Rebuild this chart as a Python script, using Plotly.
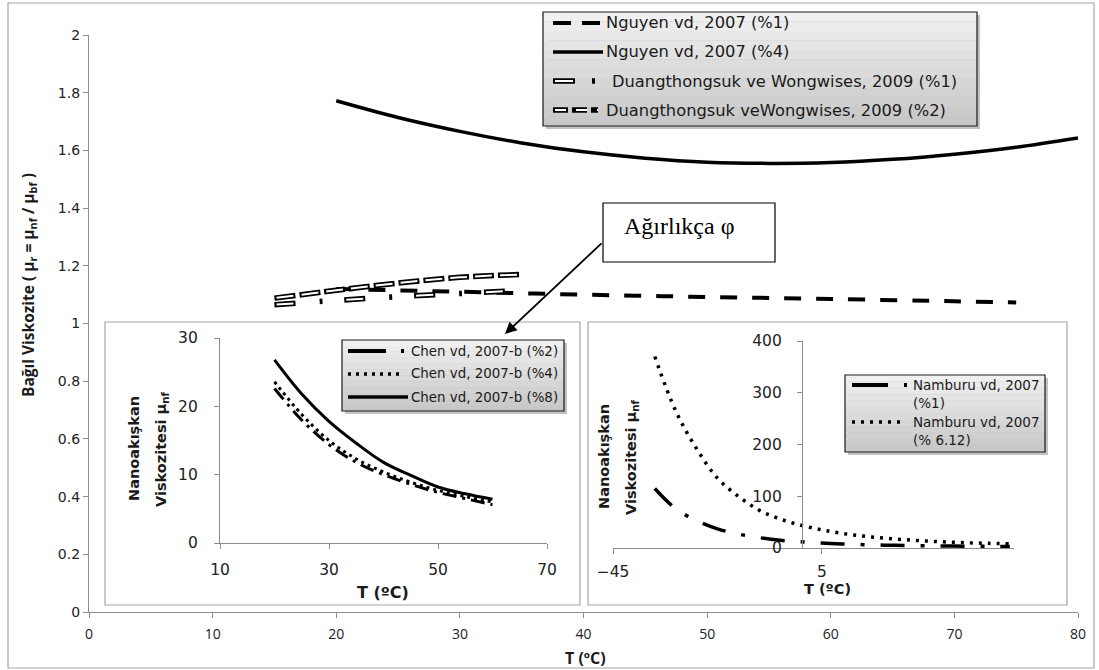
import plotly.graph_objects as go

# ---------------- data ----------------
main_x_ticks = [0, 10, 20, 30, 40, 50, 60, 70, 80]
main_y_ticks = [0, 0.2, 0.4, 0.6, 0.8, 1, 1.2, 1.4, 1.6, 1.8, 2]
main_y_ticktext = ["0", "0.2", "0.4", "0.6", "0.8", "1", "1.2", "1.4", "1.6", "1.8", "2"]

nguyen1_T = [20, 30, 40, 50, 60, 70, 75]
nguyen1_mu = [1.120, 1.110, 1.100, 1.092, 1.085, 1.077, 1.073]
nguyen4_T = [20, 25, 30, 35, 40, 45, 50, 55, 60, 65, 70, 75, 80]
nguyen4_mu = [1.772, 1.714, 1.666, 1.626, 1.595, 1.573, 1.559, 1.555, 1.558, 1.569, 1.587, 1.611, 1.643]
duang1_T = [15, 20, 25, 30, 34]
duang1_mu = [1.065, 1.080, 1.093, 1.104, 1.113]
duang2_T = [15, 20, 25, 30, 35]
duang2_mu = [1.088, 1.115, 1.140, 1.160, 1.170]

chen_T = [20, 25, 30, 35, 40, 45, 50, 55, 60]
chen2_mu = [22.6, 18.0, 14.4, 11.8, 10.0, 8.6, 7.4, 6.5, 5.6]
chen4_mu = [23.6, 18.8, 15.0, 12.3, 10.4, 8.9, 7.7, 6.8, 6.0]
chen8_mu = [26.8, 21.8, 17.8, 14.6, 11.8, 9.9, 8.2, 7.2, 6.4]
chen_x_ticks = [10, 30, 50, 70]
chen_y_ticks = [0, 10, 20, 30]

namburu_T = [-35, -30, -25, -20, -15, -10, -5, 0, 5, 10, 15, 20, 25, 30, 35, 40, 45, 50]
namburu1_mu = [115, 76, 53, 37, 27, 20, 15, 12, 9.5, 7.8, 6.5, 5.5, 4.8, 4.2, 3.8, 3.4, 3.1, 2.9]
namburu612_mu = [370, 265, 192, 135, 100, 73, 56, 44, 35, 28, 23, 19, 16, 13.5, 11.5, 10, 9, 8]
namburu_x_ticks = [-45, 5]
namburu_y_ticks = [0, 100, 200, 300, 400]

legend_main = ["Nguyen vd, 2007 (%1)", "Nguyen vd, 2007 (%4)",
               "Duangthongsuk ve Wongwises, 2009 (%1)", "Duangthongsuk veWongwises, 2009 (%2)"]
legend_chen = ["Chen vd, 2007-b (%2)", "Chen vd, 2007-b (%4)", "Chen vd, 2007-b (%8)"]
legend_namburu = ["Namburu vd, 2007<br>(%1)", "Namburu vd, 2007<br>(% 6.12)"]

# ---------------- geometry helpers (pixels -> paper) ----------------
W, H = 1099, 670
PL, PR, PT, PB = 89, 1078, 35, 612


def X(px):
    return (px - PL) / (PR - PL)


def Y(py):
    return (PB - py) / (PB - PT)


FONT = "Open Sans"
DV = "DejaVu Sans"
BLACK = "black"
AX = "#8c8c8c"
TXT = "#1a1a1a"

fig = go.Figure()

# ---------------- main traces ----------------
fig.add_trace(go.Scatter(x=nguyen4_T, y=nguyen4_mu, mode="lines", line=dict(color=BLACK, width=3.5, shape="spline"),
                         showlegend=False))
fig.add_trace(go.Scatter(x=nguyen1_T, y=nguyen1_mu, mode="lines", line=dict(color=BLACK, width=4, dash="17px,15px", shape="spline"),
                         showlegend=False))
# hollow (double) dashed lines: thick black + thin white overlay
fig.add_trace(go.Scatter(x=duang2_T, y=duang2_mu, mode="lines", line=dict(color=BLACK, width=5.5, dash="21px,4px", shape="spline"),
                         showlegend=False))
fig.add_trace(go.Scatter(x=duang2_T, y=duang2_mu, mode="lines", line=dict(color="white", width=2, dash="0px,2px,17px,6px", shape="spline"),
                         showlegend=False))
fig.add_trace(go.Scatter(x=duang1_T, y=duang1_mu, mode="lines", line=dict(color=BLACK, width=5.5, dash="21px,24px,3px,22px", shape="spline"),
                         showlegend=False))
fig.add_trace(go.Scatter(x=duang1_T, y=duang1_mu, mode="lines", line=dict(color="white", width=2, dash="0px,2px,17px,51px", shape="spline"),
                         showlegend=False))

# ---------------- Chen inset ----------------
fig.add_trace(go.Scatter(x=chen_T, y=chen8_mu, mode="lines", line=dict(color=BLACK, width=3, shape="spline"),
                         xaxis="x2", yaxis="y2", showlegend=False))
fig.add_trace(go.Scatter(x=chen_T, y=chen4_mu, mode="lines", line=dict(color=BLACK, width=3, dash="3px,4px", shape="spline"),
                         xaxis="x2", yaxis="y2", showlegend=False))
fig.add_trace(go.Scatter(x=chen_T, y=chen2_mu, mode="lines", line=dict(color=BLACK, width=3, dash="14px,6px,3px,6px", shape="spline"),
                         xaxis="x2", yaxis="y2", showlegend=False))

# ---------------- Namburu inset ----------------
fig.add_trace(go.Scatter(x=namburu_T, y=namburu612_mu, mode="lines", line=dict(color=BLACK, width=3.5, dash="3px,6px", shape="spline"),
                         xaxis="x3", yaxis="y3", showlegend=False))
fig.add_trace(go.Scatter(x=namburu_T, y=namburu1_mu, mode="lines", line=dict(color=BLACK, width=3.5, dash="24px,16px,4px,16px", shape="spline"),
                         xaxis="x3", yaxis="y3", showlegend=False))

shapes = []
annotations = []

# outer chart border
shapes.append(dict(type="rect", xref="paper", yref="paper", x0=X(8), x1=X(1094), y0=Y(668), y1=Y(3),
                   line=dict(color="#a6a6a6", width=1.2), fillcolor="rgba(0,0,0,0)", layer="below"))
# inset frames
for (a, b) in [((105, 322), (580, 605)), ((588, 322), (1067, 605))]:
    shapes.append(dict(type="rect", xref="paper", yref="paper", x0=X(a[0]), x1=X(b[0]), y0=Y(b[1]), y1=Y(a[1]),
                       line=dict(color="#a6a6a6", width=1.2), fillcolor="white", layer="below"))


def legend_box(x0, y0, x1, y1):
    # shadow
    shapes.append(dict(type="rect", xref="paper", yref="paper", x0=X(x0 + 3), x1=X(x1 + 3), y0=Y(y1 + 3), y1=Y(y0 + 3),
                       line=dict(width=0), fillcolor="rgba(120,120,120,0.45)", layer="above"))
    n = 12
    for i in range(n):
        ya = y0 + (y1 - y0) * i / n
        yb = y0 + (y1 - y0) * (i + 1) / n
        g = int(240 - 40 * i / (n - 1))
        shapes.append(dict(type="rect", xref="paper", yref="paper", x0=X(x0), x1=X(x1), y0=Y(yb), y1=Y(ya),
                           line=dict(width=0), fillcolor=f"rgb({g},{g},{g})", layer="above"))
    shapes.append(dict(type="rect", xref="paper", yref="paper", x0=X(x0), x1=X(x1), y0=Y(y1), y1=Y(y0),
                       line=dict(color="#1a1a1a", width=1.2), fillcolor="rgba(0,0,0,0)", layer="above"))


def sample(x0, x1, y, width, dash, color=BLACK):
    shapes.append(dict(type="line", xref="paper", yref="paper", x0=X(x0), x1=X(x1), y0=Y(y), y1=Y(y),
                       line=dict(color=color, width=width, dash=dash), layer="above"))


def label(x, y, text, size, xanchor="left", bold=False, family=FONT, color=TXT, angle=0, yanchor="middle", align="left"):
    annotations.append(dict(xref="paper", yref="paper", x=X(x), y=Y(y), text=(f"<b>{text}</b>" if bold else text),
                            showarrow=False, xanchor=xanchor, yanchor=yanchor, textangle=angle, align=align,
                            font=dict(family=family, size=size, color=color)))


# main legend
legend_box(543, 12, 977, 126)
rows = [23, 52, 81, 110]
sample(553, 600, rows[0], 4, "18px,11px")
sample(553, 603, rows[1], 3.5, "solid")
sample(553, 596, rows[2], 5.5, "22px,17px,3px,10px")
sample(553, 596, rows[2], 2, "0px,2px,18px,50px", "white")
sample(553, 598, rows[3], 5.5, "15px,4px")
sample(553, 598, rows[3], 2, "0px,2px,11px,8px", "white")
label(604, rows[0], legend_main[0], 16.3, family=DV)
label(604, rows[1], legend_main[1], 16.3, family=DV)
label(610, rows[2], legend_main[2], 16.3, family=DV)
label(604, rows[3], legend_main[3], 16.3, family=DV)

# Chen legend
legend_box(342, 340, 564, 411)
crow = [351, 374, 397]
sample(348, 404, crow[0], 4, "38px,15px,3px,20px")
sample(348, 404, crow[1], 3.5, "3px,5px")
sample(348, 408, crow[2], 3.5, "solid")
for i in range(3):
    label(409, crow[i], legend_chen[i], 13.4, family=DV)

# Namburu legend
legend_box(845, 375, 1045, 452)
sample(852, 908, 385, 4, "36px,16px,3px,20px")
sample(852, 905, 422, 3.5, "3px,6px")
label(911, 394, legend_namburu[0], 13.5, family=DV)
label(911, 431, legend_namburu[1], 13.5, family=DV)

# axis titles
label(585, 658, "T (ºC)", 16, xanchor="center", bold=True)
label(28, 285, "Bağıl Viskozite ( μ<sub>r</sub> = μ<sub>nf</sub> / μ<sub>bf</sub> )", 15.5, xanchor="center", bold=True, angle=-90)
label(383, 592, "T (ºC)", 16, xanchor="center", bold=True, family=DV)
label(134, 449, "Nanoakışkan", 14.5, xanchor="center", bold=True, family=DV, angle=-90)
label(162, 450, "Viskozitesi μ<sub>nf</sub>", 14.5, xanchor="center", bold=True, family=DV, angle=-90)
label(827, 589, "T (ºC)", 14.5, xanchor="center", bold=True, family=DV)
label(604, 457, "Nanoakışkan", 14.5, xanchor="center", bold=True, family=DV, angle=-90)
label(632, 458, "Viskozitesi μ<sub>nf</sub>", 14.5, xanchor="center", bold=True, family=DV, angle=-90)

# annotation box + arrow
shapes.append(dict(type="rect", xref="paper", yref="paper", x0=X(603), x1=X(775), y0=Y(262), y1=Y(203),
                   line=dict(color=BLACK, width=1.2), fillcolor="white", layer="above"))
label(622, 226, "Ağırlıkça φ", 24, family="Liberation Serif", color="black")
annotations.append(dict(xref="paper", yref="paper", x=X(505), y=Y(334), ax=98, ay=-92, text="",
                        showarrow=True, arrowhead=2, arrowsize=1.3, arrowwidth=1.8, arrowcolor=BLACK, standoff=0))

xtickfont = dict(family=FONT, size=14, color="#222")
ytickfont = dict(family=DV, size=14, color="#222")
insetfont = dict(family=DV, size=15.5, color="#222")

common = dict(ticks="outside", ticklen=5, tickcolor=AX, showline=True, linecolor=AX, linewidth=1.2,
              showgrid=False, zeroline=False)

fig.update_layout(
    width=W, height=H,
    margin=dict(l=PL, r=W - PR, t=PT, b=H - PB, pad=0),
    paper_bgcolor="white", plot_bgcolor="rgba(0,0,0,0)",
    showlegend=False,
    shapes=shapes, annotations=annotations,
    xaxis=dict(range=[0, 80], tickvals=main_x_ticks, tickfont=xtickfont, domain=[0, 1], anchor="y",
               ticklabelstandoff=4, **common),
    yaxis=dict(range=[0, 2], tickvals=main_y_ticks, ticktext=main_y_ticktext, tickfont=ytickfont,
               domain=[0, 1], anchor="x", **common),
    xaxis2=dict(domain=[X(220), X(547)], range=[10, 70], tickvals=chen_x_ticks, tickfont=insetfont,
                anchor="y2", ticklabelstandoff=7, **common),
    yaxis2=dict(domain=[Y(543), Y(338)], range=[0, 30], tickvals=chen_y_ticks, tickfont=insetfont,
                anchor="x2", ticklabelstandoff=13, **common),
    xaxis3=dict(domain=[X(613), X(1014)], range=[-45, 51], tickvals=namburu_x_ticks, tickfont=insetfont,
                anchor="y3", ticklabelstandoff=4, **common),
    yaxis3=dict(domain=[Y(548), Y(341)], range=[0, 400], tickvals=namburu_y_ticks, tickfont=insetfont,
                anchor="free", position=X(802), ticklabelstandoff=12, **common),
)

fig.write_html("out.html", post_script="document.body.style.margin='0px';",
               config={"displayModeBar": False})
